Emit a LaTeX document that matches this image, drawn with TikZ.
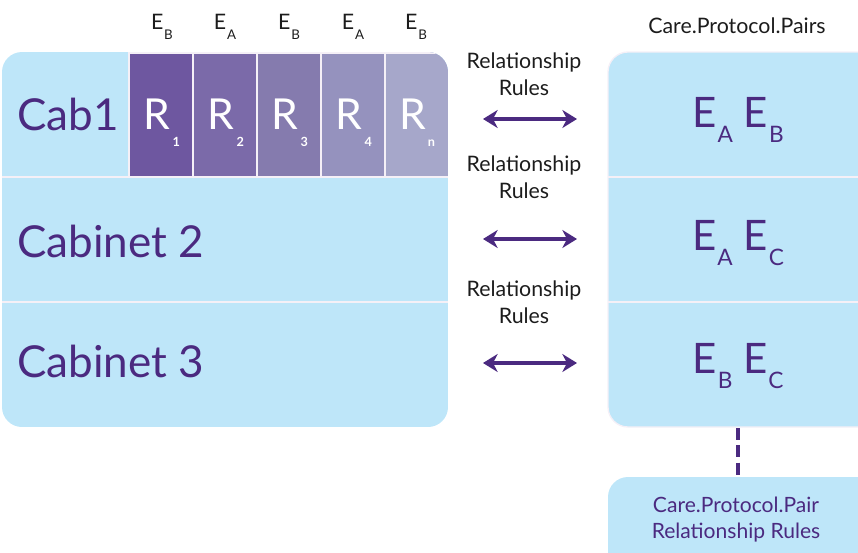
\documentclass[tikz,border=0pt]{standalone}
\usepackage{fontspec}
\setmainfont{Lato}
\usetikzlibrary{arrows.meta}
\definecolor{lblue}{HTML}{BEE6F9}
\definecolor{dpurple}{HTML}{4B2A80}
\definecolor{txtblack}{HTML}{1C1C1C}
\definecolor{rA}{HTML}{6E57A0}
\definecolor{rB}{HTML}{7B6AA9}
\definecolor{rC}{HTML}{857BAE}
\definecolor{rD}{HTML}{9592BE}
\definecolor{rE}{HTML}{A6A7CA}
\definecolor{sep}{HTML}{F5F0F7}
\newcommand\bigfnt{\fontsize{33pt}{38pt}\selectfont}
\newcommand\Epair[2]{E\kern0.8pt\raisebox{-11.25pt}{\fontsize{17pt}{18pt}\selectfont #1}\kern8pt E\kern0.8pt\raisebox{-11.25pt}{\fontsize{17pt}{18pt}\selectfont #2}}
\newcommand\Ecol[1]{E\kern0.6pt\raisebox{-6.75pt}{\fontsize{10pt}{11pt}\selectfont #1}}
\newcommand\Rcell[1]{R\kern1.5pt\raisebox{-12.75pt}{\fontsize{9.5pt}{10pt}\selectfont\bfseries #1}}
\tikzset{
  cablabel/.style={anchor=base west, inner sep=0pt, text=dpurple, font=\bigfnt},
  rlabel/.style={anchor=base, inner sep=0pt, text=white, font=\fontsize{32pt}{37pt}\selectfont},
  pairlabel/.style={anchor=base, inner sep=0pt, text=dpurple, font=\fontsize{31.5pt}{37pt}\selectfont},
  collabel/.style={anchor=base, inner sep=0pt, text=txtblack, font=\fontsize{16pt}{18pt}\selectfont},
  rulelabel/.style={anchor=base, inner sep=0pt, align=center, text=txtblack, font=\fontsize{16pt}{19.7pt}\selectfont},
  toplabel/.style={anchor=base, inner sep=0pt, text=txtblack, font=\fontsize{16pt}{18pt}\selectfont},
  notelabel/.style={anchor=base, inner sep=0pt, align=center, text=dpurple, font=\fontsize{15.8pt}{19.5pt}\selectfont},
  relarrow/.style={{Stealth[length=11pt,width=13.5pt,inset=3.5pt]}-{Stealth[length=11pt,width=13.5pt,inset=3.5pt]}, line width=2.6pt, draw=dpurple},
  seprule/.style={draw=sep, line width=2.2pt},
  cellbox/.style={draw=sep, line width=1.6pt}
}
\begin{document}
\begin{tikzpicture}[x=0.75pt,y=-0.75pt]
\useasboundingbox (0,0) rectangle (858,553);
% left cabinet block
\begin{scope}
  \clip[rounded corners=15pt] (2,52) rectangle (448,427);
  \fill[lblue] (2,52) rectangle (448,427);
  \fill[rA] (129,52) rectangle (193,177);
  \fill[rB] (193,52) rectangle (257,177);
  \fill[rC] (257,52) rectangle (321,177);
  \fill[rD] (321,52) rectangle (385,177);
  \fill[rE] (385,52) rectangle (448,177);
  \draw[cellbox] (129,52) -- (129,177) (193,52) -- (193,177) (257,52) -- (257,177) (321,52) -- (321,177) (385,52) -- (385,177);
  \draw[cellbox] (129,52.5) -- (448,52.5);
\end{scope}
\draw[seprule] (2,177) -- (448,177) (2,302) -- (448,302);
% right pairs block
\begin{scope}
  \clip (0,0) rectangle (858,553);
  \fill[lblue, rounded corners=15pt] (608,52) rectangle (900,427);
  \draw[draw=sep, line width=1pt, rounded corners=15pt] (608,52) rectangle (900,427);
  \fill[lblue, rounded corners=15pt] (608,477) rectangle (900,600);
\end{scope}
\draw[seprule] (608,177) -- (858,177) (608,302) -- (858,302);
% left texts
\node[cablabel] (cab1) at (17,130) {Cab1};
\node[cablabel] (cab2) at (17,257) {Cabinet 2};
\node[cablabel] (cab3) at (17,377) {Cabinet 3};
\node[rlabel] (r1) at (162,129) {\Rcell{1}};
\node[rlabel] (r2) at (226,129) {\Rcell{2}};
\node[rlabel] (r3) at (290,129) {\Rcell{3}};
\node[rlabel] (r4) at (354,129) {\Rcell{4}};
\node[rlabel] (rn) at (417,129) {\Rcell{n}};
% column headers
\node[collabel] (h1) at (162,30) {\Ecol{B}};
\node[collabel] (h2) at (225,30) {\Ecol{A}};
\node[collabel] (h3) at (289,30) {\Ecol{B}};
\node[collabel] (h4) at (353,30) {\Ecol{A}};
\node[collabel] (h5) at (416,30) {\Ecol{B}};
% right texts
\node[toplabel] (cpp) at (737,33) {Care.Protocol.Pairs};
\node[pairlabel] (p1) at (738,127) {\Epair{A}{B}};
\node[pairlabel] (p2) at (738,250) {\Epair{A}{C}};
\node[pairlabel] (p3) at (738,373) {\Epair{B}{C}};
\node[notelabel] (note) at (736,538) {Care.Protocol.Pair\\Relationship Rules};
% relationship labels and arrows
\node[rulelabel] (rl1) at (524,95) {Relationship\\Rules};
\node[rulelabel] (rl2) at (524,198) {Relationship\\Rules};
\node[rulelabel] (rl3) at (524,323) {Relationship\\Rules};
\coordinate (a1l) at (483,119); \coordinate (a1r) at (577,119);
\coordinate (a2l) at (483,239); \coordinate (a2r) at (577,239);
\coordinate (a3l) at (483,363); \coordinate (a3r) at (577,363);
\draw[relarrow] (a1l) -- (a1r);
\draw[relarrow] (a2l) -- (a2r);
\draw[relarrow] (a3l) -- (a3r);
% dashed link
\coordinate (dtop) at (738,428);
\coordinate (dbot) at (738,477);
\draw[dpurple, line width=2.6pt, dash pattern=on 9pt off 4pt] (dtop) -- (dbot);
\end{tikzpicture}
\end{document}
